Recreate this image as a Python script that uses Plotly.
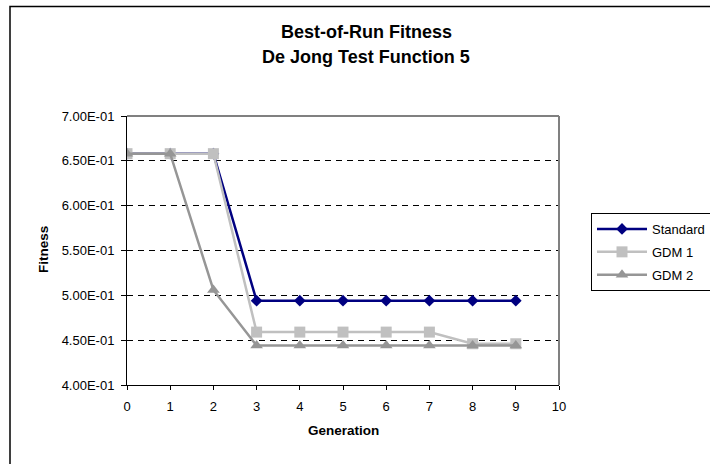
import plotly.graph_objects as go

generation = [0, 1, 2, 3, 4, 5, 6, 7, 8, 9]
standard = [0.658, 0.658, 0.658, 0.494, 0.494, 0.494, 0.494, 0.494, 0.494, 0.494]
gdm1 = [0.658, 0.658, 0.658, 0.459, 0.459, 0.459, 0.459, 0.459, 0.446, 0.446]
gdm2 = [0.658, 0.658, 0.506, 0.444, 0.444, 0.444, 0.444, 0.444, 0.444, 0.444]

y_ticks = [0.40, 0.45, 0.50, 0.55, 0.60, 0.65, 0.70]
y_tick_labels = ["4.00E-01", "4.50E-01", "5.00E-01", "5.50E-01", "6.00E-01", "6.50E-01", "7.00E-01"]
x_ticks = list(range(0, 11))

FONT = "Liberation Sans, Arial, sans-serif"
W, H = 710, 464
L, R, T, B = 127, 151, 116, 79
pw, ph = W - L - R, H - T - B


def px_x(p):
    return (p - L) / pw


def px_y(p):
    return (H - B - p) / ph


fig = go.Figure()
fig.add_trace(go.Scatter(
    x=generation, y=standard, name="Standard", mode="lines+markers",
    line=dict(color="#000080", width=2.5),
    marker=dict(symbol="diamond", size=9, color="#000080"),
    legendgroup="a"))
fig.add_trace(go.Scatter(
    x=generation, y=gdm1, name="GDM 1", mode="lines+markers",
    line=dict(color="#C0C0C0", width=2.5),
    marker=dict(symbol="square", size=11, color="#C0C0C0"),
    legendgroup="b"))
fig.add_trace(go.Scatter(
    x=generation, y=gdm2, name="GDM 2", mode="lines+markers",
    line=dict(color="#969696", width=2.5),
    marker=dict(symbol="triangle-up", size=11, color="#969696"),
    legendgroup="c"))

fig.update_layout(
    width=W, height=H,
    margin=dict(l=L, r=R, t=T, b=B, autoexpand=False),
    paper_bgcolor="white", plot_bgcolor="white",
    font=dict(family=FONT, size=13, color="black"),
    showlegend=True,
    legend=dict(
        x=px_x(591), y=px_y(213), xanchor="left", yanchor="top",
        bordercolor="black", borderwidth=1, bgcolor="white",
        font=dict(family=FONT, size=13, color="black"),
        tracegroupgap=3, traceorder="grouped", itemwidth=50,
    ),
    xaxis=dict(
        range=[0, 10], tickvals=x_ticks, ticktext=[str(v) for v in x_ticks],
        tickfont=dict(family=FONT, size=13, color="black"),
        showline=True, linecolor="black", linewidth=1,
        ticks="outside", ticklen=4, tickcolor="black",
        showgrid=False, zeroline=False, ticklabelstandoff=5,
    ),
    yaxis=dict(
        range=[0.40, 0.70], tickvals=y_ticks, ticktext=y_tick_labels,
        tickfont=dict(family=FONT, size=13, color="black"),
        showline=True, linecolor="black", linewidth=1,
        ticks="outside", ticklen=5, tickcolor="black",
        showgrid=True, gridcolor="black", gridwidth=1, griddash="6px,5px",
        zeroline=False, ticklabelstandoff=4,
    ),
    yaxis2=dict(
        range=[0.40, 0.70], tickvals=y_ticks, overlaying="y",
        ticks="inside", ticklen=5, tickcolor="black", showticklabels=False,
        showgrid=False, zeroline=False, showline=False,
    ),
)

# dummy trace to activate yaxis2 for crossing tick marks
fig.add_trace(go.Scatter(x=[None], y=[None], yaxis="y2", showlegend=False, hoverinfo="skip"))

# plot area border (top and right, grey)
fig.add_shape(type="line", xref="paper", yref="paper", x0=0, x1=1, y0=1, y1=1,
              line=dict(color="#808080", width=2))
fig.add_shape(type="line", xref="paper", yref="paper", x0=1, x1=1, y0=0, y1=1,
              line=dict(color="#808080", width=2))
# chart area border
fig.add_shape(type="rect", xref="paper", yref="paper",
              x0=px_x(10), x1=px_x(730), y0=px_y(490), y1=px_y(6.5),
              line=dict(color="black", width=1.5), layer="below")

# titles
fig.add_annotation(text="<b>Best-of-Run Fitness</b>", xref="paper", yref="paper",
                   x=px_x(366), y=px_y(32), xanchor="center", yanchor="middle",
                   showarrow=False, font=dict(family=FONT, size=18, color="black"))
fig.add_annotation(text="<b>De Jong Test Function 5</b>", xref="paper", yref="paper",
                   x=px_x(366), y=px_y(57), xanchor="center", yanchor="middle",
                   showarrow=False, font=dict(family=FONT, size=18, color="black"))
fig.add_annotation(text="<b>Generation</b>", xref="paper", yref="paper",
                   x=px_x(343), y=px_y(430), xanchor="center", yanchor="middle",
                   showarrow=False, font=dict(family=FONT, size=13.5, color="black"))
fig.add_annotation(text="<b>Fitness</b>", xref="paper", yref="paper",
                   x=px_x(43), y=px_y(250), xanchor="center", yanchor="middle",
                   textangle=-90, showarrow=False,
                   font=dict(family=FONT, size=13.5, color="black"))

fig.write_html("out.html", config={"displayModeBar": False},
               post_script="document.body.style.margin='0';")
